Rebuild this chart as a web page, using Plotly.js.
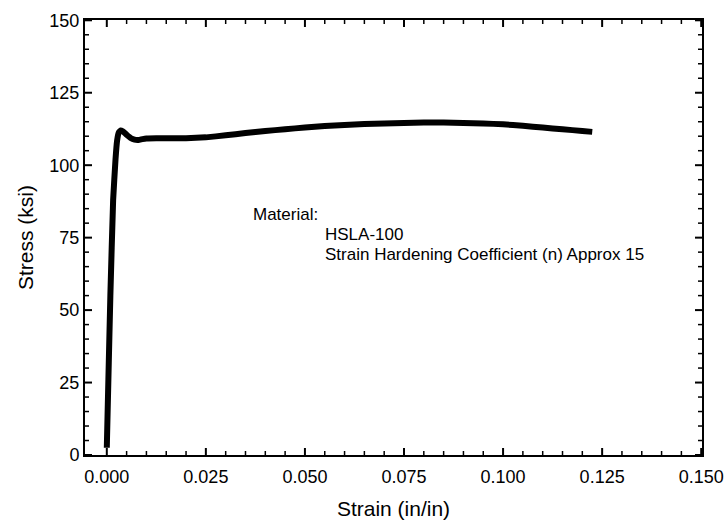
<!DOCTYPE html>
<html>
<head>
<meta charset="utf-8">
<script src="https://cdn.plot.ly/plotly-3.0.1.min.js"></script>
<style>
  html, body { margin: 0; padding: 0; background: #fff; }
  #chart { width: 724px; height: 523px; }
</style>
</head>
<body>
<div id="chart"></div>
<script>
// Strain (in/in)
const strain = [0.0000, 0.0004, 0.0009, 0.0016, 0.0022, 0.0026, 0.0030, 0.0035, 0.0040, 0.0050, 0.0060,
                0.0070, 0.0080, 0.0090, 0.0100, 0.0125, 0.0150, 0.0200, 0.0250, 0.0300, 0.0350,
                0.0400, 0.0450, 0.0500, 0.0550, 0.0600, 0.0650, 0.0700, 0.0750, 0.0800, 0.0850,
                0.0900, 0.0950, 0.1000, 0.1050, 0.1100, 0.1150, 0.1200, 0.1225];
// Stress (ksi)
const stress = [2.5, 26, 55, 88, 102, 108.5, 111.2, 112.0, 111.7, 110.5, 109.4,
                108.8, 108.7, 109.0, 109.2, 109.3, 109.3, 109.3, 109.6, 110.3, 111.1,
                111.8, 112.4, 113.0, 113.5, 113.9, 114.2, 114.4, 114.6, 114.7, 114.7,
                114.6, 114.4, 114.1, 113.6, 113.0, 112.4, 111.8, 111.5];

// Axis ticks
const xTickVals = [0, 0.025, 0.05, 0.075, 0.1, 0.125, 0.15];
const xTickText = ["0.000", "0.025", "0.050", "0.075", "0.100", "0.125", "0.150"];
const xMinorVals = [0.005, 0.01, 0.015, 0.02, 0.03, 0.035, 0.04, 0.045, 0.055, 0.06, 0.065, 0.07,
                    0.08, 0.085, 0.09, 0.095, 0.105, 0.11, 0.115, 0.12, 0.13, 0.135, 0.14, 0.145];
const yTickVals = [0, 25, 50, 75, 100, 125, 150];
const yTickText = ["0", "25", "50", "75", "100", "125", "150"];
const yMinorVals = [5, 10, 15, 20, 30, 35, 40, 45, 55, 60, 65, 70, 80, 85, 90, 95,
                    105, 110, 115, 120, 130, 135, 140, 145];

const noteLines = ["Material:", "HSLA-100", "Strain Hardening Coefficient (n) Approx 15"];

const FONT = "Liberation Sans, Arial, sans-serif";

const trace = {
  x: strain,
  y: stress,
  type: "scatter",
  mode: "lines",
  line: { color: "#000", width: 6, shape: "spline", smoothing: 0.3 },
  hoverinfo: "skip",
  showlegend: false
};

const xRange = [-0.0055, 0.1502];
const yRange = [0, 150.1];

// Inside tick marks on all four sides (drawn as pixel-sized shapes anchored to axis values)
const MAJOR = 7, MINOR = 4;
const shapes = [];
function xTick(v, len, w) {
  shapes.push({ type: "line", xref: "x", yref: "paper", ysizemode: "pixel", yanchor: 0, x0: v, x1: v, y0: 0, y1: len, line: { color: "#000", width: w }, layer: "above" });
  shapes.push({ type: "line", xref: "x", yref: "paper", ysizemode: "pixel", yanchor: 1, x0: v, x1: v, y0: 0, y1: -len, line: { color: "#000", width: w }, layer: "above" });
}
function yTick(v, len, w) {
  shapes.push({ type: "line", yref: "y", xref: "paper", xsizemode: "pixel", xanchor: 0, y0: v, y1: v, x0: 0, x1: len, line: { color: "#000", width: w }, layer: "above" });
  shapes.push({ type: "line", yref: "y", xref: "paper", xsizemode: "pixel", xanchor: 1, y0: v, y1: v, x0: 0, x1: -len, line: { color: "#000", width: w }, layer: "above" });
}
xTickVals.forEach(v => xTick(v, MAJOR, 2));
xMinorVals.forEach(v => xTick(v, MINOR, 1.5));
yTickVals.forEach(v => yTick(v, MAJOR, 2));
yMinorVals.forEach(v => yTick(v, MINOR, 1.5));

const layout = {
  width: 724,
  height: 523,
  margin: { l: 85, r: 22, t: 20, b: 68 },
  paper_bgcolor: "#fff",
  plot_bgcolor: "#fff",
  showlegend: false,
  xaxis: {
    range: xRange,
    showgrid: false, zeroline: false,
    showline: true, linecolor: "#000", linewidth: 2, mirror: true,
    ticks: "", tickmode: "array", tickvals: xTickVals, ticktext: xTickText,
    ticklabelstandoff: 4,
    tickfont: { family: FONT, size: 18, color: "#000" },
    title: { text: "Strain (in/in)", font: { family: FONT, size: 21, color: "#000" }, standoff: 16 }
  },
  yaxis: {
    range: yRange,
    showgrid: false, zeroline: false,
    showline: true, linecolor: "#000", linewidth: 2, mirror: true,
    ticks: "", tickmode: "array", tickvals: yTickVals, ticktext: yTickText,
    tickfont: { family: FONT, size: 18, color: "#000" },
    title: { text: "Stress (ksi)", font: { family: FONT, size: 21, color: "#000" }, standoff: 10 }
  },
  shapes: shapes,
  annotations: [
    { text: noteLines[0], xref: "paper", yref: "paper", x: 0.269, y: 0.553, xanchor: "left", yanchor: "middle", showarrow: false, font: { family: FONT, size: 17, color: "#000" } },
    { text: noteLines[1], xref: "paper", yref: "paper", x: 0.3857, y: 0.506, xanchor: "left", yanchor: "middle", showarrow: false, font: { family: FONT, size: 17, color: "#000" } },
    { text: noteLines[2], xref: "paper", yref: "paper", x: 0.3857, y: 0.461, xanchor: "left", yanchor: "middle", showarrow: false, font: { family: FONT, size: 17, color: "#000" } }
  ]
};

Plotly.newPlot("chart", [trace], layout, { displayModeBar: false, staticPlot: true });
</script>
</body>
</html>
